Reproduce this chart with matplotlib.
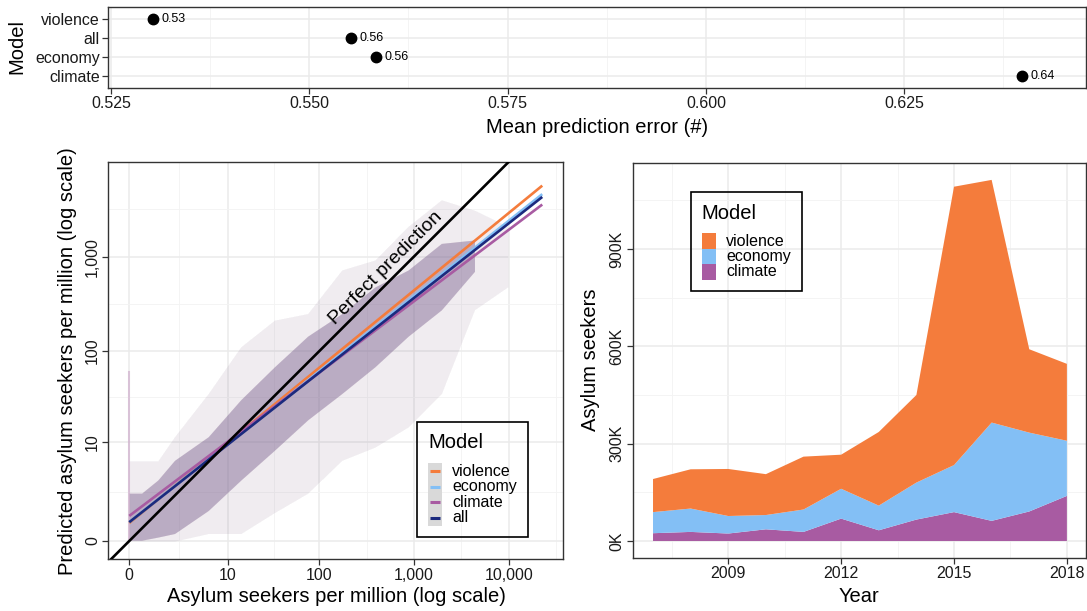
import numpy as np
import matplotlib
matplotlib.use('Agg')
import matplotlib.pyplot as plt
from matplotlib.patches import Rectangle

plt.rcParams['font.family'] = ['Liberation Sans', 'DejaVu Sans']

W, H = 1087, 611

# top panel: mean prediction error per model
err_models = ['violence', 'all', 'economy', 'climate']
err_values = [0.5303, 0.5553, 0.5584, 0.6398]

# scatter panel: fitted lines (asylum seekers per million)
fit_models = ['violence', 'economy', 'climate', 'all']
fit_x = [0, 22600]
fit_y_start = [0.55, 0.58, 0.84, 0.58]
fit_y_end = [5620, 4570, 3550, 4270]

sparse_x = [0, 1, 2, 5.8, 14, 33, 75, 173, 388, 870, 1950, 4360, 9770]
sparse_lo = [0, 0, 0, 0.2, 0.2, 1.0, 2.2, 6.1, 8.8, 15, 35, 275, 480]
sparse_hi = [6, 6, 11.6, 35, 111, 213, 250, 723, 922, 2090, 3980, 3090, 2090]
dense_x = [0, 0.35, 1, 2, 5.8, 14, 33, 75, 173, 388, 870, 1950, 4360]
dense_lo = [0.02, 0.02, 0.1, 0.2, 1.1, 3.4, 8.1, 18, 35, 68, 144, 274, 700]
dense_hi = [2.2, 2.2, 3.4, 6.1, 11.6, 30, 68, 144, 250, 478, 723, 1380, 1500]
zero_streak_top = 60

# area panel: asylum seekers by driver (thousands)
years = [2007, 2008, 2009, 2010, 2011, 2012, 2013, 2014, 2015, 2016, 2017, 2018]
climate_k = [24, 28, 23, 36, 28, 69, 33, 66, 89, 62, 91, 139]
economy_k = [65, 72, 54, 44, 69, 92, 76, 114, 145, 303, 243, 170]
violence_k = [102, 121, 145, 126, 163, 105, 227, 270, 858, 748, 257, 237]

colors = {'violence': '#F47C3C', 'economy': '#83BFF5',
          'climate': '#A85BA2', 'all': '#1B2A7E'}

TOP = (108.3, 7.3, 1086, 87.7)
LEFT = (108.3, 162.4, 563.3, 559.3)
RIGHT = (632.7, 162.7, 1085.7, 557.7)


def rect(box):
    x0, y0, x1, y1 = box
    return [x0 / W, 1 - y1 / H, (x1 - x0) / W, (y1 - y0) / H]


def frac(box, px, py):
    x0, y0, x1, y1 = box
    return (px - x0) / (x1 - x0), (y1 - py) / (y1 - y0)


def style(ax):
    ax.set_facecolor('white')
    for s in ax.spines.values():
        s.set_color('#333333')
        s.set_linewidth(1.0)
    ax.grid(True, which='major', color='#EBEBEB', lw=1.1)
    ax.grid(True, which='minor', color='#F3F3F3', lw=0.6)
    ax.set_axisbelow(True)
    ax.tick_params(which='major', length=4, width=0.9, color='#333333',
                   labelsize=11.5, labelcolor='#1a1a1a', pad=2)
    ax.tick_params(which='minor', length=0)


def label(ax, box, xl, xpos, yl, ypos):
    ax.set_xlabel(xl, fontsize=14.5)
    ax.xaxis.set_label_coords(*frac(box, *xpos))
    ax.xaxis.label.set_va('center')
    ax.set_ylabel(yl, fontsize=14.5)
    ax.yaxis.set_label_coords(*frac(box, *ypos))
    ax.yaxis.label.set_va('center')


def fwd(v):
    return np.log10(np.clip(v, -0.9999, None) + 1)


def inv(t):
    return 10 ** np.asarray(t, dtype=float) - 1


fig = plt.figure(figsize=(W / 100, H / 100), dpi=100)

# ---- top: mean prediction error
ax1 = fig.add_axes(rect(TOP))
style(ax1)
ypos = np.arange(len(err_models))[::-1] + 1
ax1.plot(err_values, ypos, 'o', color='black', ms=7.5, zorder=3)
for v, y in zip(err_values, ypos):
    ax1.annotate(f'{v:.2f}', (v, y), xytext=(6, 0), textcoords='offset points',
                 va='center', fontsize=9)
ax1.set_xlim(0.52466, 0.6479)
ax1.set_ylim(0.4, 4.6)
ax1.set_xticks([0.525, 0.55, 0.575, 0.6, 0.625],
               labels=['0.525', '0.550', '0.575', '0.600', '0.625'])
ax1.set_xticks([0.5375, 0.5625, 0.5875, 0.6125, 0.6375], minor=True)
ax1.set_yticks(ypos, labels=err_models)
label(ax1, TOP, 'Mean prediction error (#)', (597, 127), 'Model', (17, 47))

# ---- bottom left: observed vs predicted
ax2 = fig.add_axes(rect(LEFT))
style(ax2)
ax2.set_xscale('function', functions=(fwd, inv))
ax2.set_yscale('function', functions=(fwd, inv))
mix = ['violence', 'economy', 'climate', 'all']
for m in mix:
    ax2.fill_between(sparse_x, sparse_lo, sparse_hi, color=colors[m], alpha=0.03, lw=0)
for m in mix:
    ax2.fill_between(dense_x, dense_lo, dense_hi, color=colors[m], alpha=0.15, lw=0)
ax2.plot([0, 0], [0, zero_streak_top], color=colors['climate'], alpha=0.3, lw=1.5)
for m, y0, y1 in zip(fit_models, fit_y_start, fit_y_end):
    ax2.plot(fit_x, [y0, y1], color=colors[m], lw=1.9, solid_capstyle='butt', zorder=3)
ax2.plot([-0.45, 40000], [-0.45, 40000], color='black', lw=1.9, zorder=4)
ax2.annotate('Perfect prediction', (inv(2.795), inv(2.795)), xytext=(-6, 6),
             textcoords='offset points', rotation=45, rotation_mode='anchor',
             ha='center', va='center', fontsize=14)
ticks = [0, 10, 100, 1000, 10000]
mids = [inv((fwd(a) + fwd(b)) / 2) for a, b in zip(ticks[:-1], ticks[1:])] + [inv(4.5)]
ax2.set_xticks(ticks, labels=['0', '10', '100', '1,000', '10,000'])
ax2.set_xticks(mids, minor=True)
ax2.set_yticks(ticks[:4], labels=['0', '10', '100', '1,000'])
ax2.set_yticks(mids, minor=True)
ax2.set_xlim(inv(-0.221), inv(4.576))
ax2.set_ylim(inv(-0.193), inv(3.995))
ax2.tick_params(axis='y', labelrotation=90)
for t in ax2.get_yticklabels():
    t.set_va('center')
label(ax2, LEFT, 'Asylum seekers per million (log scale)', (336, 596),
      'Predicted asylum seekers per million (log scale)', (68, 361))

# ---- bottom right: stacked area
ax3 = fig.add_axes(rect(RIGHT))
style(ax3)
k = 1000
ax3.stackplot(years, np.array(climate_k) * k, np.array(economy_k) * k,
              np.array(violence_k) * k,
              colors=[colors['climate'], colors['economy'], colors['violence']], lw=0)
ax3.set_xlim(2006.46, 2018.5)
ax3.set_ylim(-51500, 1166000)
ax3.set_xticks([2009, 2012, 2015, 2018])
ax3.set_xticks([2007.5, 2010.5, 2013.5, 2016.5], minor=True)
ax3.set_yticks([0, 300000, 600000, 900000], labels=['0K', '300K', '600K', '900K'])
ax3.set_yticks([150000, 450000, 750000, 1050000], minor=True)
ax3.tick_params(axis='y', labelrotation=90)
for t in ax3.get_yticklabels():
    t.set_va('center')
label(ax3, RIGHT, 'Year', (859, 597), 'Asylum seekers', (591, 360))

# ---- legends drawn in pixel space
ov = fig.add_axes([0, 0, 1, 1], zorder=10)
ov.set_autoscale_on(False)
ov.set_xlim(0, W)
ov.set_ylim(H, 0)
ov.axis('off')

ov.add_patch(Rectangle((417.3, 422.3), 110.4, 114.4, fill=False, ec='black', lw=1.2))
ov.text(428, 443, 'Model', fontsize=14.5, va='center')
ov.add_patch(Rectangle((428, 463.2), 13.7, 62.3, fc='#D9D9D9', ec='none'))
for i, m in enumerate(mix):
    y = 471 + i * 15.6
    ov.plot([430, 440], [y, y], color=colors[m], lw=2.2, solid_capstyle='butt')
    ov.text(452.3, y, m, fontsize=11.5, va='center')

ov.add_patch(Rectangle((691, 192.3), 110.7, 98.4, fill=False, ec='black', lw=1.2))
ov.text(701.7, 213.3, 'Model', fontsize=14.5, va='center')
for i, m in enumerate(['violence', 'economy', 'climate']):
    y = 241 + i * 15.4
    ov.add_patch(Rectangle((701.7, y - 7.7), 14.3, 15.4, fc=colors[m], ec='none'))
    ov.text(726, y, m, fontsize=11.5, va='center')

fig.savefig('out.png', dpi=100)
